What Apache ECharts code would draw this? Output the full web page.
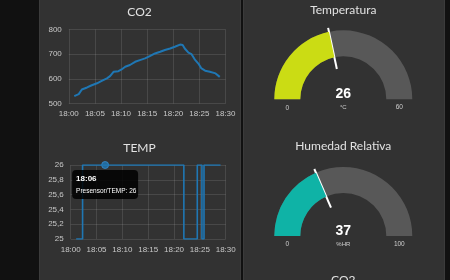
<!DOCTYPE html>
<html><head><meta charset="utf-8">
<script src="https://cdn.jsdelivr.net/npm/echarts@6/dist/echarts.min.js"></script>
<style>
html,body{margin:0;padding:0;background:#111;width:450px;height:280px;overflow:hidden}
.panel{position:absolute;background:#323232;border:1px solid #3b3b3b;box-sizing:border-box}
#chart{position:absolute;left:0;top:0;width:450px;height:280px}
</style></head><body>
<div class="panel" style="left:39px;top:-2px;width:202px;height:290px"></div>
<div class="panel" style="left:243px;top:-2px;width:202px;height:290px"></div>
<div id="chart"></div>
<script>
// minutes after 18:00
const co2Minutes = [1.05,1.9,2.5,3.5,4.4,5.4,6.3,7.3,7.9,8.6,9.5,10.1,10.8,11.7,12.7,13.6,14.6,15.5,16.5,17.5,18.4,19.4,20.3,21.3,21.8,22.2,22.9,23.5,24.1,24.8,25.4,26.1,27.0,28.1,28.9];
const co2Values  = [530,538,557,565,574,582,592,602,611,629,631,638,649,656,669,676,683,692,703,710,717,723,730,739,737,723,706,700,679,662,642,633,629,622,608];
const tempMinutes = [1.06,2.3,6.66,21.9,24.5,25.4,25.8,29.0];
const tempValues  = [25,26,26,25,26,25,26,26];
const tipMinute = 6.66, tipValue = 26, tipLabel = '18:06', tipSeries = 'Presensor/TEMP';
const xTickMinutes = [0,5,10,15,20,25,30];
const gaugeTitles = ['Temperatura','Humedad Relativa'];
const gaugeValues = [26,37];
const gaugeMax = [60,100];
const gaugeUnits = ['°C','%HR'];
const gaugeColors = ['#cbdc14','#0fb3a6'];
const chartTitles = ['CO2','TEMP'];

const FONT = 'Liberation Sans, Arial, sans-serif';
const TFONT = 'Lato, Open Sans, sans-serif';
const LABEL = '#c8c8c8';
const GRIDC = 'rgba(255,255,255,0.11)';
const BLUE = '#1f77b4';

const pad = n => (n < 10 ? '0' : '') + n;
const timeFmt = v => '18:' + pad(Math.round(v));
const R = 69, RW = 26;
const gCenters = [[343.3, 99.3], [343.3, 236]];

function gaugeSeries(i) {
  return {
    type: 'gauge', center: gCenters[i], radius: R, startAngle: 180, endAngle: 0,
    min: 0, max: gaugeMax[i], animation: false,
    axisLine: { lineStyle: { width: RW, color: [[1, '#585858']] } },
    progress: { show: true, width: RW, itemStyle: { color: gaugeColors[i] } },
    pointer: { show: true, icon: 'rect', length: 42, width: 2, offsetCenter: [0, -31], itemStyle: { color: '#ffffff' } },
    anchor: { show: false },
    axisTick: { show: false }, splitLine: { show: false }, axisLabel: { show: false },
    title: { show: true, offsetCenter: [0, 8.5], color: '#cfcfcf', fontSize: 6, fontFamily: FONT },
    detail: { offsetCenter: [0, -5], fontSize: 14, fontWeight: 'bold', color: '#ffffff', fontFamily: FONT, formatter: '{value}' },
    data: [{ value: gaugeValues[i], name: gaugeUnits[i] }]
  };
}

function xAxis(gi) {
  return {
    type: 'value', gridIndex: gi, min: 0, max: 30, interval: 5,
    axisLine: { show: false }, axisTick: { show: false },
    splitLine: { show: true, lineStyle: { color: GRIDC, width: 1 } },
    axisLabel: { color: LABEL, fontSize: 8, fontFamily: FONT, margin: 6.5, formatter: timeFmt,
      showMinLabel: true, showMaxLabel: true }
  };
}

const chart = echarts.init(document.getElementById('chart'), null, { renderer: 'canvas' });
chart.setOption({
  animation: false,
  backgroundColor: 'transparent',
  grid: [
    { left: 68.8, right: 224.5, top: 29.5, bottom: 176.5 },
    { left: 70.7, right: 224.3, top: 165, bottom: 41 }
  ],
  xAxis: [xAxis(0), xAxis(1)],
  yAxis: [
    { type: 'value', gridIndex: 0, min: 500, max: 800, interval: 100,
      axisLine: { show: false }, axisTick: { show: false },
      splitLine: { lineStyle: { color: GRIDC } },
      axisLabel: { color: LABEL, fontSize: 8, fontFamily: FONT, margin: 7 } },
    { type: 'value', gridIndex: 1, min: 25, max: 26, interval: 0.2,
      axisLine: { show: false }, axisTick: { show: false },
      splitLine: { lineStyle: { color: GRIDC } },
      axisLabel: { color: LABEL, fontSize: 8, fontFamily: FONT, margin: 7,
        formatter: v => String(+(+v).toFixed(1)).replace('.', ',') } }
  ],
  series: [
    { type: 'line', xAxisIndex: 0, yAxisIndex: 0, showSymbol: false, symbol: 'none',
      lineStyle: { color: BLUE, width: 2 },
      data: co2Minutes.map((m, i) => [m, co2Values[i]]) },
    { type: 'line', xAxisIndex: 1, yAxisIndex: 1, showSymbol: false, symbol: 'none', step: 'end',
      lineStyle: { color: BLUE, width: 1.6 },
      data: tempMinutes.map((m, i) => [m, tempValues[i]]) },
    { type: 'scatter', xAxisIndex: 1, yAxisIndex: 1, symbolSize: 7,
      itemStyle: { color: BLUE, borderColor: '#3a8fd0', borderWidth: 1 },
      data: [[tipMinute, tipValue]] },
    gaugeSeries(0), gaugeSeries(1)
  ]
});

const p = chart.convertToPixel({ gridIndex: 1 }, [tipMinute, tipValue]);
const tx = p[0] - 33, ty = p[1] + 5;
const titleStyle = (x, y, text) => ({ type: 'text', x, y, style: { text, fill: '#e2e2e2', font: '12px ' + TFONT, textAlign: 'center', textVerticalAlign: 'middle' } });
const graphics = [
  titleStyle(139.5, 12.5, chartTitles[0]),
  titleStyle(139.5, 148, chartTitles[1]),
  titleStyle(343.3, 10.5, gaugeTitles[0]),
  titleStyle(343.3, 146, gaugeTitles[1]),
  { type: 'text', x: 343.3, y: 274.5, style: { text: 'CO2', fill: '#e2e2e2', font: '12px ' + TFONT, textAlign: 'center', textVerticalAlign: 'top' } },
  { type: 'rect', x: tx, y: ty, shape: { width: 66, height: 29, r: 4 }, style: { fill: 'rgba(0,0,0,0.85)' }, z: 100 },
  { type: 'text', x: tx + 4, y: ty + 8.5, z: 101, style: { text: tipLabel, fill: '#fff', font: 'bold 8px ' + FONT, textVerticalAlign: 'middle' } },
  { type: 'text', x: tx + 4, y: ty + 21, z: 101, style: { text: tipSeries + ': ' + tipValue, fill: '#fff', font: '6.5px ' + FONT, textVerticalAlign: 'middle' } }
];
gCenters.forEach((c, i) => {
  const mid = R - RW / 2;
  graphics.push({ type: 'text', x: c[0] - mid, y: c[1] + 8.5, style: { text: '0', fill: '#cfcfcf', font: '6.5px ' + FONT, textAlign: 'center', textVerticalAlign: 'middle' } });
  graphics.push({ type: 'text', x: c[0] + mid, y: c[1] + 8, style: { text: String(gaugeMax[i]), fill: '#cfcfcf', font: '6.5px ' + FONT, textAlign: 'center', textVerticalAlign: 'middle' } });
});
chart.setOption({ graphic: graphics });
</script>
</body></html>
